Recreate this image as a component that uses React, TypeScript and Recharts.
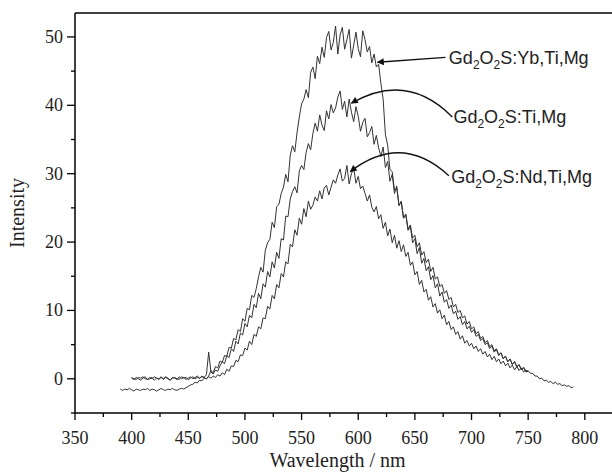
import { LineChart, Line, XAxis, YAxis, ReferenceLine } from "recharts";

// emission spectra, sampled every 2 nm
const WL_STEP = 2;
const YB_START = 390;
const TI_START = 400;

// Gd2O2S:Yb,Ti,Mg  (390 - 790 nm)
const ybTiMg = [
  -1.5, -1.7, -1.5, -1.6, -1.4, -1.6, -1.8, -1.5, -1.6, -1.7,
  -1.5, -1.6, -1.4, -1.7, -1.5, -1.6, -1.8, -1.6, -1.4, -1.6,
  -1.7, -1.5, -1.6, -1.4, -1.6, -1.7, -1.5, -1.4, -1.5, -1.3,
  -1.1, -0.9, -0.8, -0.5, -0.6, -0.2, -0.3, 0.1, 0.0, 0.4,
  1.2, 0.9, 1.8, 1.6, 2.6, 2.4, 3.4, 3.3, 4.6, 4.5,
  5.9, 5.7, 7.2, 6.9, 8.8, 8.4, 10.3, 10.1, 12.2, 11.9,
  13.2, 14.9, 16.3, 15.6, 18.8, 19.9, 20.4, 22.9, 22.1, 25.2,
  25.5, 27.1, 28.0, 29.9, 28.8, 32.7, 34.1, 33.2, 36.0, 38.3,
  40.2, 40.9, 42.3, 41.1, 44.8, 45.6, 43.9, 47.2, 46.1, 48.5,
  47.0, 49.9, 50.8, 48.1, 49.2, 51.6, 47.5, 50.3, 51.4, 48.2,
  49.6, 51.1, 46.9, 48.8, 50.7, 48.3, 47.1, 50.9, 49.6, 47.8,
  48.6, 46.2, 47.5, 45.6, 46.0, 43.2, 40.9, 35.7, 34.2, 30.6,
  30.3, 27.6, 27.9, 25.4, 25.8, 23.5, 24.0, 21.9, 22.5, 20.6,
  21.0, 19.3, 19.9, 18.1, 18.6, 17.0, 17.5, 15.7, 16.3, 14.6,
  14.9, 13.5, 13.8, 12.5, 12.9, 11.6, 11.9, 10.5, 10.9, 9.7,
  10.0, 8.9, 9.2, 8.0, 8.4, 7.3, 7.6, 6.6, 6.9, 5.9,
  6.2, 5.3, 5.6, 4.7, 5.0, 4.1, 4.4, 3.5, 3.8, 3.0,
  3.3, 2.5, 2.9, 2.1, 2.5, 1.8, 2.0, 1.4, 1.6, 1.1,
  1.2, 0.8, 0.8, 0.4, 0.4, 0.0, 0.1, -0.3, -0.2, -0.5,
  -0.4, -0.7, -0.5, -0.8, -0.7, -1.0, -0.9, -1.1, -1.0, -1.3,
  -1.2,
];

// Gd2O2S:Ti,Mg  (400 - 750 nm)
const tiMg = [
  0.1, -0.1, 0.2, 0.0, -0.2, 0.1, 0.3, -0.1, 0.0, 0.2,
  -0.2, 0.1, 0.0, 0.3, -0.1, 0.2, 0.0, -0.2, 0.2, 0.1,
  -0.1, 0.3, 0.0, 0.2, -0.1, 0.1, 0.3, 0.0, 0.2, 0.4,
  0.1, 0.3, 0.2, 0.6, 3.9, 1.0, 0.7, 1.3, 1.1, 1.9,
  2.5, 2.2, 3.4, 3.1, 4.4, 4.0, 5.5, 5.1, 6.7, 6.4,
  8.1, 7.6, 9.3, 8.9, 10.9, 10.4, 12.5, 11.7, 13.9, 13.4,
  15.7, 14.9, 17.1, 16.2, 18.5, 17.6, 20.5, 20.3, 23.8, 23.7,
  26.3, 27.4, 28.1, 27.2, 30.4, 31.2, 30.6, 33.1, 34.4, 33.5,
  35.9, 37.4, 36.2, 38.6, 37.1, 36.3, 39.2, 38.0, 40.1, 38.9,
  39.6, 41.2, 42.1, 39.4, 40.6, 38.3, 40.9, 39.0, 37.6, 39.8,
  38.4, 36.2, 37.5, 38.1, 35.4, 36.0, 36.9, 34.3, 35.6, 33.8,
  32.5, 33.9, 30.9, 31.8, 28.9, 29.9, 27.1, 28.2, 25.3, 26.0,
  23.5, 24.1, 21.7, 22.3, 19.9, 20.5, 18.3, 19.2, 16.9, 17.6,
  15.8, 16.4, 14.5, 15.1, 13.3, 13.9, 12.1, 12.7, 11.2, 11.6,
  10.3, 10.8, 9.5, 9.9, 8.7, 9.1, 7.9, 8.4, 7.3, 7.7,
  6.8, 7.2, 6.2, 6.5, 5.6, 5.9, 5.0, 5.3, 4.4, 4.8,
  3.9, 4.3, 3.4, 3.8, 2.9, 3.3, 2.5, 2.9, 2.1, 2.5,
  1.7, 2.1, 1.3, 1.7, 1.0, 1.1,
];

// Gd2O2S:Nd,Ti,Mg  (400 - 750 nm)
const ndTiMg = [
  0.2, 0.0, -0.1, 0.2, 0.1, 0.3, 0.0, -0.1, 0.2, 0.0,
  0.3, 0.1, -0.1, 0.2, 0.0, 0.3, 0.1, -0.2, 0.1, 0.2,
  0.0, -0.1, 0.3, 0.1, 0.2, -0.1, 0.1, 0.3, 0.0, 0.2,
  0.1, 0.4, 0.2, 0.0, 0.3, 0.1, 0.4, 0.2, 0.6, 0.4,
  0.9, 0.6, 1.4, 1.1, 1.9, 1.8, 2.7, 2.5, 3.5, 3.4,
  4.5, 4.2, 5.5, 5.0, 6.5, 6.2, 7.6, 7.3, 8.9, 8.8,
  10.6, 10.2, 12.2, 11.7, 13.8, 13.3, 15.4, 14.9, 17.1, 16.8,
  19.7, 19.3, 21.8, 21.0, 23.5, 22.6, 24.9, 23.7, 26.0, 24.8,
  25.4, 26.6, 26.0, 27.5, 26.3, 27.9, 28.3, 26.9, 28.0, 29.1,
  28.6, 29.8, 30.7, 28.9, 29.3, 31.2, 28.5, 30.0, 30.8, 28.6,
  29.6, 27.8, 28.2, 27.1, 26.0, 26.9, 25.1, 24.4, 25.2, 23.4,
  24.0, 22.0, 22.9, 20.9, 21.9, 19.9, 21.0, 19.1, 20.2, 18.6,
  19.6, 17.9, 18.5, 16.6, 17.1, 15.2, 15.7, 13.8, 14.4, 12.7,
  13.1, 11.5, 12.0, 10.5, 11.0, 9.6, 10.1, 8.8, 9.3, 7.9,
  8.4, 7.2, 7.6, 6.5, 6.9, 5.8, 6.3, 5.2, 5.6, 4.8,
  5.2, 4.4, 4.8, 4.0, 4.4, 3.6, 4.0, 3.2, 3.6, 2.8,
  3.3, 2.5, 2.9, 2.2, 2.6, 1.9, 2.3, 1.6, 2.0, 1.3,
  1.8, 1.2, 1.6, 1.0, 1.3, 1.0,
];

const xTicks = [350, 375, 400, 425, 450, 475, 500, 525, 550, 575, 600, 625, 650, 675, 700, 725, 750, 775, 800];
const yTicks = [-5, 0, 5, 10, 15, 20, 25, 30, 35, 40, 45, 50];

const X_DOMAIN = [350, 824];
const Y_DOMAIN = [-5, 53.5];

// layout
const W = 612;
const H = 475;
const PLOT_LEFT = 75;
const PLOT_TOP = 13;
const PLOT_BOTTOM = 413;

const rows = ybTiMg.map((v, i) => {
  const nm = YB_START + i * WL_STEP;
  const j = (nm - TI_START) / WL_STEP;
  return {
    nm,
    yb: v,
    ti: j >= 0 && j < tiMg.length ? tiMg[j] : undefined,
    nd: j >= 0 && j < ndTiMg.length ? ndTiMg[j] : undefined,
  };
});

// data -> pixel, for the annotation overlay
const px = (nm: number) => PLOT_LEFT + ((nm - X_DOMAIN[0]) / (X_DOMAIN[1] - X_DOMAIN[0])) * (W - PLOT_LEFT);
const py = (v: number) => PLOT_TOP + ((Y_DOMAIN[1] - v) / (Y_DOMAIN[1] - Y_DOMAIN[0])) * (PLOT_BOTTOM - PLOT_TOP);

const serif = "'Liberation Serif', 'Times New Roman', serif";
const sans = "'Liberation Sans', Arial, sans-serif";

function XTick(props: any) {
  const { x, y, payload } = props;
  const major = payload.value % 50 === 0;
  return (
    <g>
      <line x1={x} y1={y} x2={x} y2={y + (major ? 7 : 4)} stroke="#000" strokeWidth={1.3} />
      {major && (
        <text x={x} y={y + 31} textAnchor="middle" fontFamily={serif} fontSize={18} fill="#222">
          {payload.value}
        </text>
      )}
    </g>
  );
}

function YTick(props: any) {
  const { x, y, payload } = props;
  const major = payload.value % 10 === 0;
  return (
    <g>
      <line x1={x} y1={y} x2={x - (major ? 8 : 4)} y2={y} stroke="#000" strokeWidth={1.3} />
      {major && (
        <text x={x - 12} y={y + 6} textAnchor="end" fontFamily={serif} fontSize={18} fill="#222">
          {payload.value}
        </text>
      )}
    </g>
  );
}

function Label({ x, y, dopant }: { x: number; y: number; dopant: string }) {
  return (
    <text x={x} y={y} fontFamily={sans} fontSize={18} fill="#222">
      Gd
      <tspan dy={5} fontSize={12}>2</tspan>
      <tspan dy={-5}>O</tspan>
      <tspan dy={5} fontSize={12}>2</tspan>
      <tspan dy={-5}>S:{dopant}</tspan>
    </text>
  );
}

export default function App() {
  // arrow anchor points in data units
  const ybHead = { x: px(617), y: py(46.3) };
  const ybTail = { x: px(677), y: py(47.0) };
  const tiHead = { x: px(594), y: py(40.3) };
  const tiTail = { x: px(683), y: py(38.3) };
  const ndHead = { x: px(593), y: py(30.3) };
  const ndTail = { x: px(680), y: py(29.7) };

  return (
    <div style={{ position: "absolute", left: 0, top: 0, width: W, height: H, background: "#fff" }}>
      <LineChart width={W} height={H} data={rows} margin={{ top: PLOT_TOP, right: 0, bottom: 0, left: 0 }}>
        <XAxis
          dataKey="nm"
          type="number"
          domain={X_DOMAIN}
          ticks={xTicks}
          interval={0}
          height={H - PLOT_BOTTOM}
          tickSize={0}
          tickMargin={0}
          tickLine={false}
          tick={<XTick />}
          axisLine={{ stroke: "#000", strokeWidth: 1.5 }}
          allowDataOverflow
        />
        <YAxis
          type="number"
          domain={Y_DOMAIN}
          ticks={yTicks}
          interval={0}
          width={PLOT_LEFT}
          tickSize={0}
          tickMargin={0}
          tickLine={false}
          tick={<YTick />}
          axisLine={{ stroke: "#000", strokeWidth: 1.5 }}
          allowDataOverflow
        />
        <ReferenceLine y={Y_DOMAIN[1]} stroke="#000" strokeWidth={1.5} />
        <Line dataKey="nd" type="linear" stroke="#333" strokeWidth={1} dot={false} isAnimationActive={false} />
        <Line dataKey="ti" type="linear" stroke="#333" strokeWidth={1} dot={false} isAnimationActive={false} />
        <Line dataKey="yb" type="linear" stroke="#333" strokeWidth={1} dot={false} isAnimationActive={false} />
      </LineChart>
      <svg width={W} height={H} style={{ position: "absolute", left: 0, top: 0, pointerEvents: "none" }}>
        <defs>
          <marker id="head" viewBox="0 0 10 10" refX="9" refY="5" markerWidth="9" markerHeight="7" orient="auto" markerUnits="userSpaceOnUse">
            <path d="M0,0 L10,5 L0,10 z" fill="#111" />
          </marker>
        </defs>
        <line x1={ybTail.x} y1={ybTail.y} x2={ybHead.x} y2={ybHead.y} stroke="#111" strokeWidth={1.3} markerEnd="url(#head)" />
        <path
          d={`M${tiTail.x},${tiTail.y} Q${(tiTail.x + tiHead.x) / 2 + 5},${py(45)} ${tiHead.x},${tiHead.y}`}
          fill="none" stroke="#111" strokeWidth={1.3} markerEnd="url(#head)"
        />
        <path
          d={`M${ndTail.x},${ndTail.y} Q${(ndTail.x + ndHead.x) / 2 + 2},${py(36.1)} ${ndHead.x},${ndHead.y}`}
          fill="none" stroke="#111" strokeWidth={1.3} markerEnd="url(#head)"
        />
        <Label x={px(680)} y={py(46.0)} dopant="Yb,Ti,Mg" />
        <Label x={px(684)} y={py(37.4)} dopant="Ti,Mg" />
        <Label x={px(682)} y={py(28.7)} dopant="Nd,Ti,Mg" />
        <text
          transform={`translate(24, ${(PLOT_TOP + PLOT_BOTTOM) / 2}) rotate(-90)`}
          textAnchor="middle" fontFamily={serif} fontSize={20} fill="#222"
        >
          Intensity
        </text>
        <text x={(PLOT_LEFT + W) / 2 - 6} y={467} textAnchor="middle" fontFamily={serif} fontSize={20} fill="#222">
          Wavelength / nm
        </text>
      </svg>
    </div>
  );
}
